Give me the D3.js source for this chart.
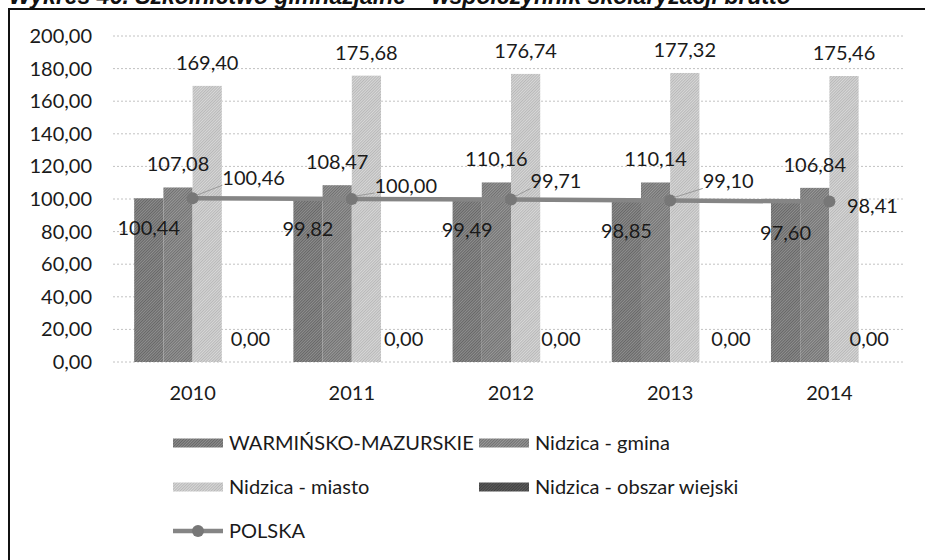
<!DOCTYPE html>
<html>
<head>
<meta charset="utf-8">
<script src="https://cdnjs.cloudflare.com/ajax/libs/d3/7.8.5/d3.min.js"></script>
<style>
  body { margin: 0; background: #fff; }
  svg { display: block; }
</style>
</head>
<body>
<script>
const w = 925;
const h = 560;
const plot = { left: 113, right: 909, top: 36, bottom: 362 };

const title = 'Wykres 46. Szkolnictwo gimnazjalne – współczynnik skolaryzacji brutto';
const years = ['2010', '2011', '2012', '2013', '2014'];
const seriesNames = ['WARMIŃSKO-MAZURSKIE', 'Nidzica - gmina', 'Nidzica - miasto', 'Nidzica - obszar wiejski'];
const warminskoMazurskie = [100.44, 99.82, 99.49, 98.85, 97.60];
const nidzicaGmina = [107.08, 108.47, 110.16, 110.14, 106.84];
const nidzicaMiasto = [169.40, 175.68, 176.74, 177.32, 175.46];
const nidzicaWies = [0.00, 0.00, 0.00, 0.00, 0.00];
const polskaName = 'POLSKA';
const polska = [100.46, 100.00, 99.71, 99.10, 98.41];
const yTicks = [0, 20, 40, 60, 80, 100, 120, 140, 160, 180, 200];

const barSeries = [warminskoMazurskie, nidzicaGmina, nidzicaMiasto, nidzicaWies];

// label nudges, as they were dragged in the original
const wiesLabelShift = [14, 8, 6, 17, -4];
const polskaLabelShift = [[61, -20], [54, -13], [45, -18], [58, -19], [43, 4]];

const fmt = d3.formatLocale({ decimal: ',', thousands: ' ', grouping: [3], currency: ['', ''] }).format('.2f');
const font = 'Lato, "Open Sans", sans-serif';

const svg = d3.select('body')
  .append('svg')
  .attr('width', w)
  .attr('height', h);

// fine diagonal grain, like the scanned print
const defs = svg.append('defs');
const hatch = (id, base, ink) => {
  const p = defs.append('pattern')
    .attr('id', id)
    .attr('patternUnits', 'userSpaceOnUse')
    .attr('width', 2)
    .attr('height', 2)
    .attr('patternTransform', 'rotate(45)');
  p.append('rect').attr('width', 2).attr('height', 2).attr('fill', base);
  p.append('rect').attr('width', 1).attr('height', 2).attr('fill', ink);
};
hatch('p0', '#8f8f8f', '#666');
hatch('p1', '#999', '#707070');
hatch('p2', '#d8d8d8', '#b8b8b8');
hatch('p3', '#5e5e5e', '#404040');
const fills = ['url(#p0)', 'url(#p1)', 'url(#p2)', 'url(#p3)'];

// title (cut by the top edge, as in the scan) and frame
svg.append('text')
  .attr('x', 9)
  .attr('y', 4)
  .attr('font-family', '"Liberation Sans", Arial, sans-serif')
  .attr('font-weight', 'bold')
  .attr('font-style', 'italic')
  .attr('font-size', 23)
  .attr('fill', '#111')
  .text(title);

svg.append('rect')
  .attr('x', 9)
  .attr('y', 9)
  .attr('width', 2000)
  .attr('height', 2000)
  .attr('fill', 'none')
  .attr('stroke', '#111')
  .attr('stroke-width', 2);

const x0 = d3.scaleBand().domain(years).range([plot.left, plot.right]).paddingInner(0.266).paddingOuter(0.133);
const x1 = d3.scaleBand().domain(seriesNames).range([0, x0.bandwidth()]);
const y = d3.scaleLinear().domain([0, 200]).range([plot.bottom, plot.top]);

svg.append('g')
  .selectAll('line')
  .data(yTicks)
  .enter()
  .append('line')
  .attr('x1', plot.left)
  .attr('x2', plot.right - 4)
  .attr('y1', d => y(d))
  .attr('y2', d => y(d))
  .attr('stroke', '#c2c2c2')
  .attr('stroke-width', 1)
  .attr('stroke-dasharray', '2,2');

const yAxis = svg.append('g')
  .attr('transform', `translate(${plot.left},0)`)
  .call(d3.axisLeft(y).tickValues(yTicks).tickFormat(fmt).tickSize(0).tickPadding(21));
yAxis.select('.domain').remove();
yAxis.selectAll('text').attr('font-family', font).attr('font-size', 20).attr('fill', '#1a1a1a');

const xAxis = svg.append('g')
  .attr('transform', `translate(0,${plot.bottom})`)
  .call(d3.axisBottom(x0).tickSize(0).tickPadding(24));
xAxis.select('.domain').remove();
xAxis.selectAll('text').attr('font-family', font).attr('font-size', 20).attr('fill', '#1a1a1a');

const rows = years.map((yr, i) => seriesNames.map((s, k) => ({ year: yr, name: s, k: k, i: i, value: barSeries[k][i] })));

const groups = svg.append('g')
  .selectAll('g')
  .data(rows)
  .enter()
  .append('g')
  .attr('transform', (d, i) => `translate(${x0(years[i])},0)`);

groups.selectAll('rect')
  .data(d => d)
  .enter()
  .append('rect')
  .attr('x', d => x1(d.name))
  .attr('y', d => y(d.value))
  .attr('width', x1.bandwidth())
  .attr('height', d => y(0) - y(d.value))
  .attr('fill', d => fills[d.k]);

// POLSKA line
const line = d3.line()
  .x((d, i) => x0(years[i]) + x0.bandwidth() / 2)
  .y(d => y(d));

svg.append('path')
  .datum(polska)
  .attr('d', line)
  .attr('fill', 'none')
  .attr('stroke', '#858585')
  .attr('stroke-width', 4.5);

svg.append('g')
  .selectAll('circle')
  .data(polska)
  .enter()
  .append('circle')
  .attr('cx', (d, i) => x0(years[i]) + x0.bandwidth() / 2)
  .attr('cy', d => y(d))
  .attr('r', 6)
  .attr('fill', '#777');

// bar labels
groups.selectAll('text')
  .data(d => d)
  .enter()
  .append('text')
  .attr('x', d => x1(d.name) + x1.bandwidth() / 2 + (d.k === 3 ? wiesLabelShift[d.i] : 0))
  .attr('y', d => d.k === 0 ? y(d.value) + 30 : y(d.value) - 23)
  .attr('dy', '0.35em')
  .attr('text-anchor', 'middle')
  .attr('font-family', font)
  .attr('font-size', 20)
  .attr('fill', '#1a1a1a')
  .text(d => fmt(d.value));

// POLSKA labels with leader lines
const pl = svg.append('g');
polska.forEach((v, i) => {
  const px = x0(years[i]) + x0.bandwidth() / 2;
  const py = y(v);
  const lx = px + polskaLabelShift[i][0];
  const ly = py + polskaLabelShift[i][1];
  const t = pl.append('text')
    .attr('x', lx)
    .attr('y', ly)
    .attr('dy', '0.35em')
    .attr('text-anchor', 'middle')
    .attr('font-family', font)
    .attr('font-size', 20)
    .attr('fill', '#1a1a1a')
    .text(fmt(v));
  if (i < polska.length - 1) {
    const b = t.node().getBBox();
    pl.insert('line', 'text')
      .attr('x1', px + 4)
      .attr('y1', py - 3)
      .attr('x2', b.x)
      .attr('y2', b.y + b.height - 4)
      .attr('stroke', '#9a9a9a')
      .attr('stroke-width', 1);
  }
});

// legend
const legendItems = seriesNames.map((s, k) => ({ name: s, k: k }));
const legendPos = [[173, 443], [479, 443], [173, 487], [479, 487]];
const legend = svg.append('g');

legend.selectAll('rect')
  .data(legendItems)
  .enter()
  .append('rect')
  .attr('x', d => legendPos[d.k][0])
  .attr('y', d => legendPos[d.k][1] - 4.5)
  .attr('width', 50)
  .attr('height', 9)
  .attr('fill', d => fills[d.k]);

legend.selectAll('text')
  .data(legendItems)
  .enter()
  .append('text')
  .attr('x', d => legendPos[d.k][0] + 56)
  .attr('y', d => legendPos[d.k][1])
  .attr('dy', '0.35em')
  .attr('font-family', font)
  .attr('font-size', 20)
  .attr('fill', '#1a1a1a')
  .text(d => d.name);

legend.append('line')
  .attr('x1', 173)
  .attr('x2', 223)
  .attr('y1', 531)
  .attr('y2', 531)
  .attr('stroke', '#858585')
  .attr('stroke-width', 4.5);

legend.append('circle')
  .attr('cx', 198)
  .attr('cy', 531)
  .attr('r', 6)
  .attr('fill', '#777');

legend.append('text')
  .attr('x', 229)
  .attr('y', 531)
  .attr('dy', '0.35em')
  .attr('font-family', font)
  .attr('font-size', 20)
  .attr('fill', '#1a1a1a')
  .text(polskaName);
</script>
</body>
</html>
